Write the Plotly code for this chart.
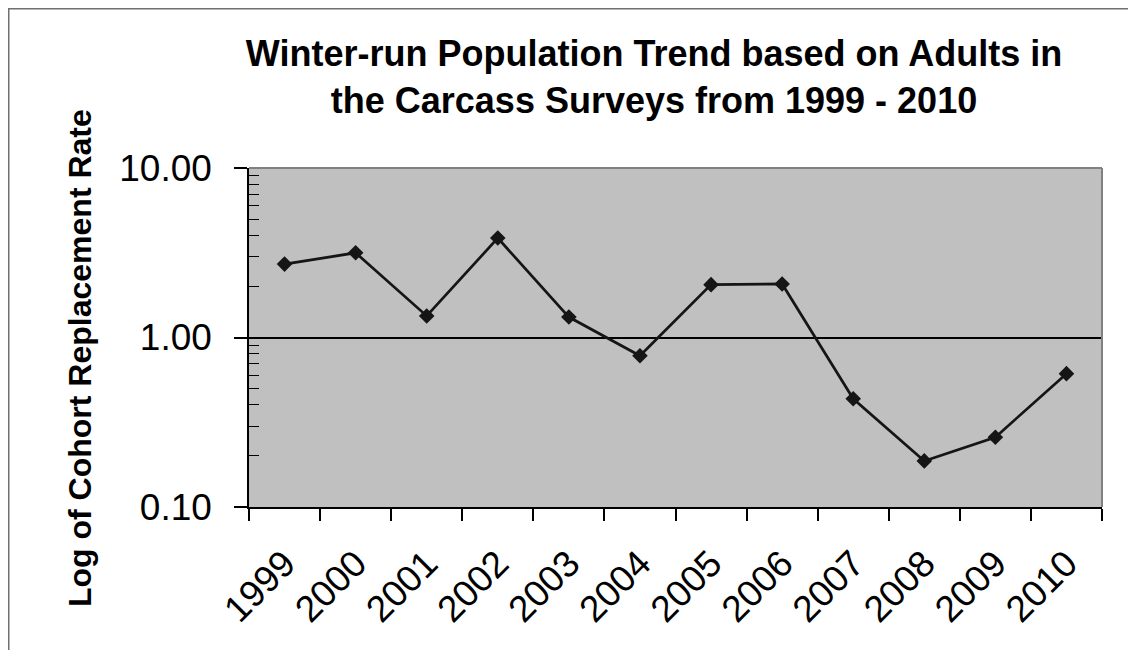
import plotly.graph_objects as go

years = ["1999", "2000", "2001", "2002", "2003", "2004", "2005", "2006", "2007", "2008", "2009", "2010"]
rates = [2.71, 3.16, 1.34, 3.86, 1.32, 0.78, 2.05, 2.07, 0.435, 0.187, 0.258, 0.612]
y_tickvals = [0.1, 1, 10]
y_ticktext = ["0.10", "1.00", "10.00"]
y_minor = [0.2, 0.3, 0.4, 0.5, 0.6, 0.7, 0.8, 0.9, 2, 3, 4, 5, 6, 7, 8, 9]

title_text = "Winter-run Population Trend based on Adults in<br>the Carcass Surveys from 1999 - 2010"
ytitle = "Log of Cohort Replacement Rate"

FONT = "Liberation Sans, Arial, sans-serif"

# layout geometry (pixels, figure coords; page body adds an 8px offset)
W, H = 1128, 642
L, R, T, B = 241, 34, 160, 143
pw, ph = W - L - R, H - T - B

def px_x(p):
    return (p - L) / pw

def px_y(p):
    return (H - B - p) / ph

fig = go.Figure()
fig.add_trace(go.Scatter(
    x=years, y=rates, mode="lines+markers",
    line=dict(color="#151515", width=2.7),
    marker=dict(symbol="diamond", size=12, color="#151515"),
    showlegend=False, hoverinfo="x+y",
))

fig.update_layout(
    width=W, height=H,
    margin=dict(l=L, r=R, t=T, b=B, autoexpand=False),
    paper_bgcolor="white",
    plot_bgcolor="#c0c0c0",
    font=dict(family=FONT, color="black"),
    title=dict(text="<b>" + title_text + "</b>", x=646 / W, xanchor="center",
               xref="container", y=1 - 58 / H, yanchor="middle", yref="container",
               font=dict(size=36, family=FONT, color="black")),
    xaxis=dict(
        type="category", tickson="boundaries", ticks="outside", ticklen=12,
        tickwidth=1.5, tickcolor="black", showline=True, linecolor="black",
        linewidth=2, showgrid=False, tickangle=-45,
        tickfont=dict(size=37, family=FONT, color="black"),
        ticklabelstandoff=18,
        range=[-0.5, 11.5], mirror=False,
    ),
    yaxis=dict(
        type="log", range=[-1, 1], tickvals=y_tickvals, ticktext=y_ticktext,
        ticks="outside", ticklen=13, tickwidth=1.5, tickcolor="black",
        showline=True, linecolor="black", linewidth=1.5,
        showgrid=True, gridcolor="black", gridwidth=1.5,
        tickfont=dict(size=37, family=FONT, color="black"),
        ticklabelstandoff=15, zeroline=False,
        minor=dict(tickvals=y_minor, ticks="inside", ticklen=10,
                   tickcolor="black", tickwidth=1.2, showgrid=False),
    ),
    annotations=[dict(
        text="<b>" + ytitle + "</b>", textangle=-90, x=px_x(72), y=px_y(350),
        xref="paper", yref="paper", showarrow=False, xanchor="center",
        yanchor="middle", font=dict(size=32, family=FONT, color="black"),
    )],
    shapes=[
        # plot area border (top and right, gray)
        dict(type="line", xref="paper", yref="paper", x0=0, x1=1, y0=1, y1=1,
             line=dict(color="#808080", width=2), layer="above"),
        dict(type="line", xref="paper", yref="paper", x0=1, x1=1, y0=0, y1=1,
             line=dict(color="#808080", width=2), layer="above"),
        # figure frame (left and top edges)
        dict(type="line", xref="paper", yref="paper", x0=px_x(0), x1=px_x(0),
             y0=px_y(0), y1=px_y(H + 5), line=dict(color="#707070", width=3)),
        dict(type="line", xref="paper", yref="paper", x0=px_x(0), x1=px_x(W + 5),
             y0=px_y(0), y1=px_y(0), line=dict(color="#707070", width=3)),
    ],
)

fig.write_html("out.html")
